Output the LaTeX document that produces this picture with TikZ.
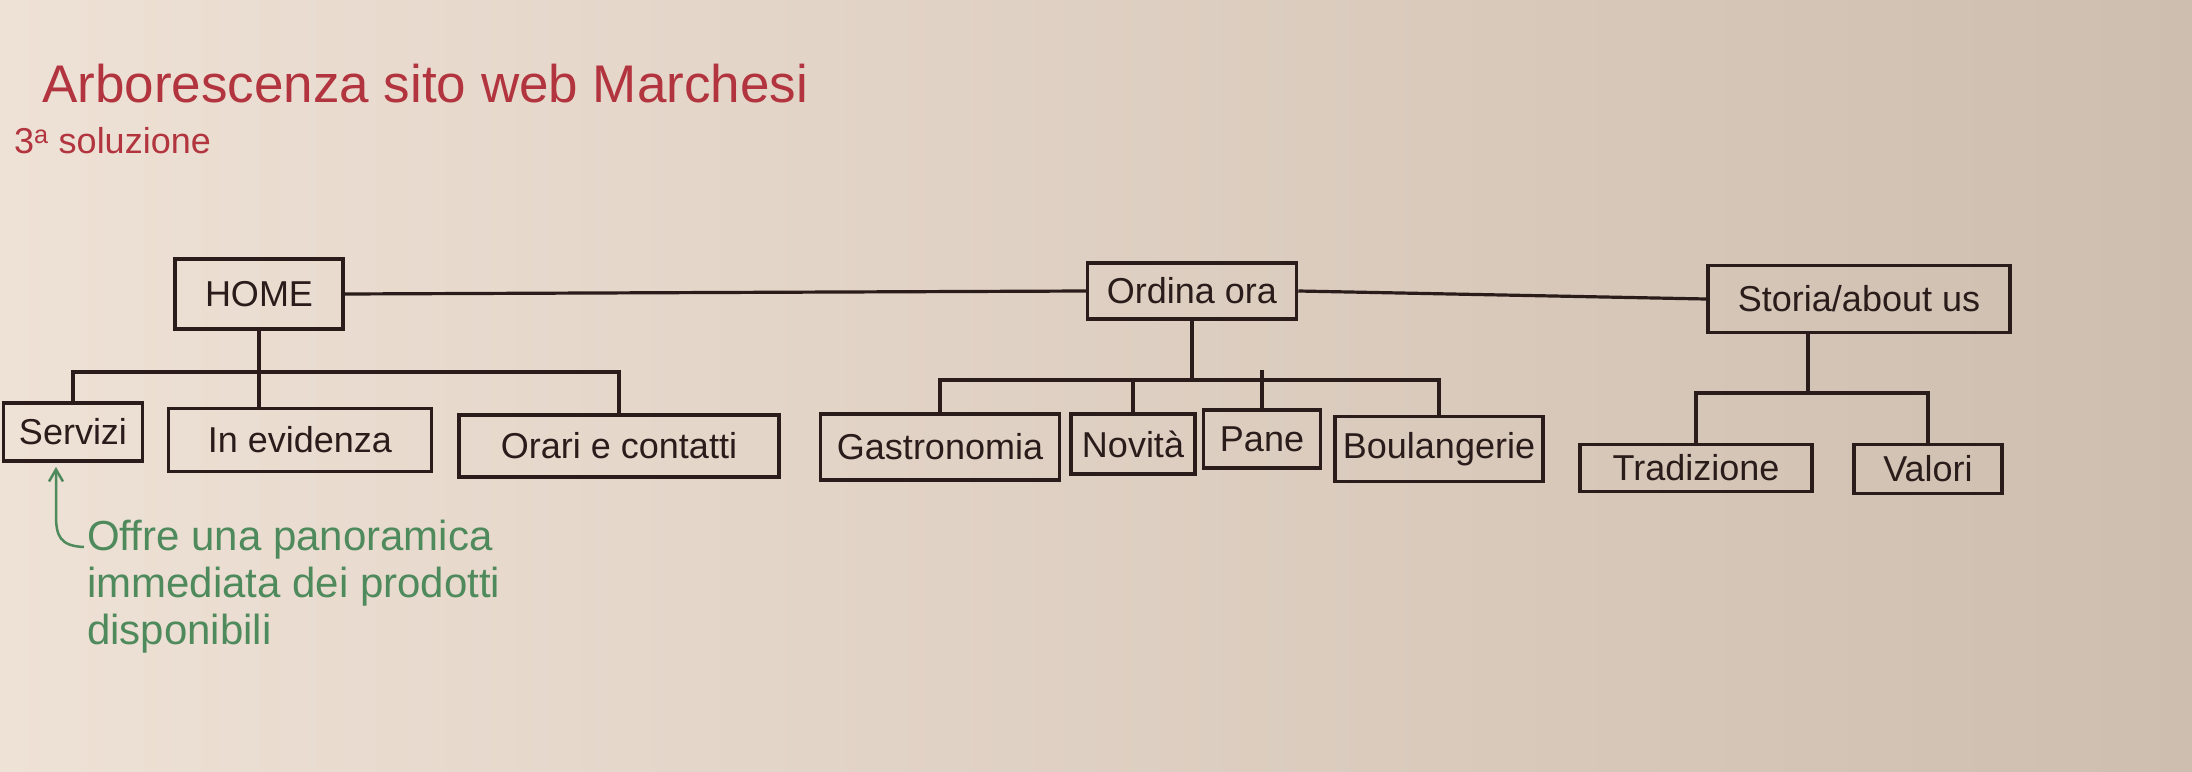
\documentclass[tikz,border=0pt]{standalone}
\usepackage{fontspec}
\setmainfont{Liberation Sans}
\usetikzlibrary{arrows.meta}
\definecolor{paperL}{RGB}{238,225,213}
\definecolor{paperR}{RGB}{206,190,175}
\definecolor{ink}{RGB}{42,28,26}
\definecolor{redink}{RGB}{178,52,62}
\definecolor{greenink}{RGB}{78,138,92}
\tikzset{
  box/.style={draw=ink, line width=3.5pt, inner sep=0pt, text=ink,
    font=\fontsize{36}{40}\selectfont},
  link/.style={draw=ink, line width=3.2pt},
  annot/.style={draw=greenink, line width=2.5pt, -{Straight Barb[length=12pt,width=14pt]}},
}
\begin{document}
\begin{tikzpicture}[x=1pt,y=-1pt]
\shade[left color=paperL, right color=paperR] (0,0) rectangle (2192,771);
\useasboundingbox (0,0) rectangle (2192,771);

% titles
\node[anchor=base west, text=redink, font=\fontsize{53}{56}\selectfont, inner sep=0pt] (title) at (42,102) {Arborescenza sito web Marchesi};
\node[anchor=base west, text=redink, font=\fontsize{36}{40}\selectfont, inner sep=0pt] (sub) at (14,153) {3\textsuperscript{a} soluzione};

% top level
\node[box, minimum width=168pt, minimum height=70pt] (home) at (259,294) {HOME};
\node[box, minimum width=209pt, minimum height=56pt] (ordina) at (1192,291) {Ordina ora};
\node[box, minimum width=302pt, minimum height=67pt] (storia) at (1859,299) {Storia/about us};

% children
\node[box, minimum width=139pt, minimum height=58pt] (servizi) at (73,432) {Servizi};
\node[box, minimum width=263pt, minimum height=63pt] (evidenza) at (300,440) {In evidenza};
\node[box, minimum width=320pt, minimum height=62pt] (orari) at (619,446) {Orari e contatti};
\node[box, minimum width=239pt, minimum height=66pt] (gastro) at (940,447) {Gastronomia};
\node[box, minimum width=124pt, minimum height=60pt] (novita) at (1133,444) {Novità};
\node[box, minimum width=117pt, minimum height=58pt] (pane) at (1262,439) {Pane};
\node[box, minimum width=208pt, minimum height=65pt] (boul) at (1439,449) {Boulangerie};
\node[box, minimum width=232pt, minimum height=47pt] (trad) at (1696,468) {Tradizione};
\node[box, minimum width=148pt, minimum height=49pt] (valori) at (1928,469) {Valori};

% horizontal links
\draw[link] (home.east) -- (ordina.west);
\draw[link] (ordina.east) -- (storia.west);

% HOME tree
\coordinate (hb) at (259,372);
\draw[link] (home.south) -- (home.south |- evidenza.north);
\draw[link] (servizi.north) |- (hb) -| (orari.north);

% Ordina tree
\coordinate (ob) at (1192,380);
\draw[link] (ordina.south) -- (ob);
\draw[link] (gastro.north) |- (ob) -| (boul.north);
\draw[link] (novita.north) -- (novita.north |- ob);
\draw[link] (pane.north) -- (pane.north |- ob) -- ++(0,-10);

% Storia tree
\coordinate (sb) at (1808,393);
\draw[link] (storia.south -| sb) -- (sb);
\draw[link] (trad.north) |- (sb) -| (valori.north);

% annotation
\node[anchor=north west, align=left, text=greenink, inner sep=0pt,
  font=\fontsize{42}{47}\selectfont] (note) at (87,520) {Offre una panoramica\\immediata dei prodotti\\disponibili};
\coordinate (na) at (84,547);
\coordinate (tip) at (56,467);
\draw[annot] (na) .. controls (60,546) and (56,536) .. (56,515) -- (tip);
\end{tikzpicture}
\end{document}
